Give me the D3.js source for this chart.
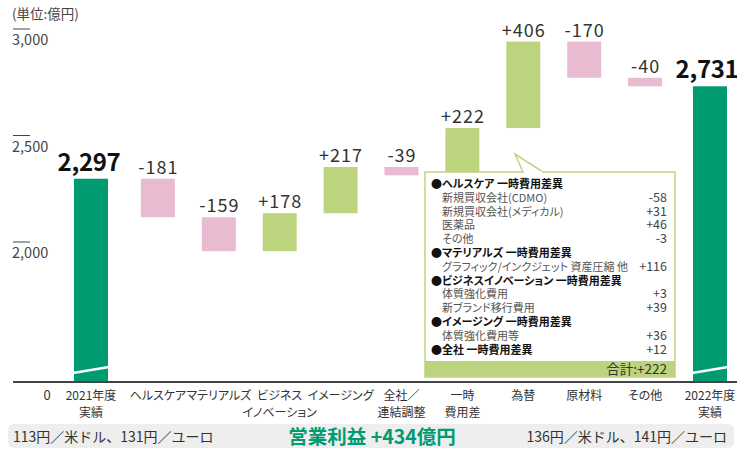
<!DOCTYPE html>
<html><head><meta charset="utf-8">
<script src="https://cdn.jsdelivr.net/npm/d3@7"></script>
<style>
html,body{margin:0;padding:0;background:#fff;}
svg{display:block;font-family:"Noto Sans CJK JP","Noto Sans",sans-serif;font-feature-settings:"palt" 1;}
.nopalt{font-feature-settings:normal;}
</style></head>
<body><svg id="c" width="737" height="449"></svg>
<script>
// ---- data ----
const categories = ["2021年度\n実績","ヘルスケア","マテリアルズ","ビジネス\nイノベーション","イメージング","全社／\n連結調整","一時\n費用差","為替","原材料","その他","2022年度\n実績"];
const startValue = 2297;
const endValue = 2731;
const deltas = [-181, -159, 178, 217, -39, 222, 406, -170, -40];
const yTicks = [2000, 2500, 3000];
const unitLabel = "(単位:億円)";
const noteLabels = ["●ヘルスケア 一時費用差異","新規買収会社(CDMO)","新規買収会社(メディカル)","医薬品","その他","●マテリアルズ 一時費用差異","グラフィック/インクジェット 資産圧縮 他","●ビジネスイノベーション 一時費用差異","体質強化費用","新ブランド移行費用","●イメージング 一時費用差異","体質強化費用等","●全社 一時費用差異"];
const noteValues = ["","-58","+31","+46","-3","","+116","","+3","+39","","+36","+12"];
const noteHeader = [true,false,false,false,false,true,false,true,false,false,true,false,true];
const noteTotal = "合計:+222";
const footerLeft = "113円／米ドル、131円／ユーロ";
const footerCenter = "営業利益 +434億円";
const footerRight = "136円／米ドル、141円／ユーロ";

// ---- layout ----
const W = 737, H = 449;
const baseY = 382;
const barW = 34;
const cGreen = "#009B70", cPos = "#BDD47E", cNeg = "#E8BBD0", cText = "#333";

const svg = d3.select("#c");
const y = d3.scaleLinear().domain([2000, 3000]).range([242, 29]);
const x = d3.scalePoint().domain(categories).range([97, 706]);
const xc = (c, i) => x(c) + (i === 0 ? -6 : i === categories.length - 1 ? 4 : 0);

// build waterfall rows
const rows = [];
rows.push({cat: categories[0], i: 0, type: "total", v0: null, v1: startValue, label: d3.format(",")(startValue)});
let run = startValue;
deltas.forEach((d, k) => {
  rows.push({cat: categories[k+1], i: k+1, type: d >= 0 ? "pos" : "neg", v0: run, v1: run + d,
             label: (d >= 0 ? "+" : "-") + Math.abs(d)});
  run += d;
});
rows.push({cat: categories[categories.length-1], i: categories.length-1, type: "total", v0: null, v1: endValue, label: d3.format(",")(endValue)});

// unit label
svg.append("text").attr("x", 12).attr("y", 19).attr("font-size", 13.5).attr("fill", "#444").text(unitLabel);

// y ticks (short line above label)
const tg = svg.append("g");
yTicks.forEach(t => {
  tg.append("line").attr("x1", 13).attr("x2", 30).attr("y1", y(t)).attr("y2", y(t))
    .attr("stroke", "#444").attr("stroke-width", 1);
  tg.append("text").attr("x", 12).attr("y", y(t) + 16).attr("font-size", 14.5).attr("fill", "#444")
    .text(d3.format(",")(t));
});

// bars
const bars = svg.append("g");
rows.forEach(r => {
  const cx = xc(r.cat, r.i);
  if (r.type === "total") {
    bars.append("rect").attr("x", cx - barW/2).attr("y", y(r.v1)).attr("width", barW)
      .attr("height", baseY - y(r.v1)).attr("fill", cGreen);
    // break mark
    bars.append("line").attr("x1", cx - barW/2 - 1).attr("y1", baseY - 9)
      .attr("x2", cx + barW/2 + 1).attr("y2", baseY - 15)
      .attr("stroke", "#fff").attr("stroke-width", 2.5);
    svg.append("text").attr("x", cx - (r.i === 0 ? 2 : 3)).attr("y", y(r.v1) - 8).attr("text-anchor", "middle")
      .attr("font-size", 24).attr("font-weight", 700).attr("letter-spacing", -0.3).attr("fill", "#111").text(r.label);
  } else {
    const top = Math.max(r.v0, r.v1), bot = Math.min(r.v0, r.v1);
    bars.append("rect").attr("x", cx - barW/2).attr("y", y(top)).attr("width", barW)
      .attr("height", y(bot) - y(top)).attr("fill", r.type === "pos" ? cPos : cNeg);
    svg.append("text").attr("x", cx + 0.5).attr("y", y(top) - 5).attr("text-anchor", "middle")
      .attr("font-size", 18).attr("letter-spacing", 1).attr("fill", cText).text(r.label);
  }
});

// baseline
svg.append("line").attr("x1", 13).attr("x2", W).attr("y1", baseY).attr("y2", baseY)
  .attr("stroke", "#444").attr("stroke-width", 2);
svg.append("text").attr("x", 47).attr("y", 400).attr("text-anchor", "middle")
  .attr("font-size", 13).attr("fill", cText).text("0");

// category labels
categories.forEach((c, i) => {
  const lines = c.split("\n");
  const t = svg.append("text").attr("text-anchor", "middle").attr("font-size", 12).attr("fill", cText);
  lines.forEach((ln, k) => {
    t.append("tspan").attr("x", xc(c, i)).attr("y", 400 + k * 17).text(ln);
  });
});

// callout box
const bx0 = 425, bx1 = 675, by0 = 172, by1 = 377;
const cg = svg.append("g");
cg.append("rect").attr("x", bx0).attr("y", by0).attr("width", bx1 - bx0).attr("height", by1 - by0)
  .attr("fill", "#fff").attr("stroke", cPos).attr("stroke-width", 1.5);
cg.append("rect").attr("x", bx0).attr("y", 361).attr("width", bx1 - bx0).attr("height", by1 - 361)
  .attr("fill", cPos);
// pointer
cg.append("path").attr("d", `M${523},${by0} L${515},${154} L${543},${by0}`)
  .attr("fill", "#fff").attr("stroke", cPos).attr("stroke-width", 1.5);
cg.append("line").attr("x1", 524).attr("x2", 542).attr("y1", by0).attr("y2", by0)
  .attr("stroke", "#fff").attr("stroke-width", 2);

noteLabels.forEach((lab, k) => {
  const yy = 188 + k * 13.8;
  cg.append("text").attr("x", noteHeader[k] ? 431 : 442).attr("y", yy)
    .attr("font-size", 11).attr("font-weight", noteHeader[k] ? 700 : 400)
    .attr("fill", noteHeader[k] ? "#111" : "#555").text(lab);
  if (noteValues[k]) {
    cg.append("text").attr("x", 667).attr("y", yy).attr("text-anchor", "end")
      .attr("font-size", 12.5).attr("fill", "#444").text(noteValues[k]);
  }
});
cg.append("text").attr("x", 667).attr("y", 374).attr("text-anchor", "end")
  .attr("font-size", 13.5).attr("fill", cText).text(noteTotal);

// footer band
svg.append("rect").attr("x", 8).attr("y", 424).attr("width", 726).attr("height", 24).attr("rx", 6)
  .attr("fill", "#EEEEEE");
svg.append("text").attr("class", "nopalt").attr("x", 13).attr("y", 442).attr("font-size", 14).attr("fill", cText).text(footerLeft);
svg.append("text").attr("x", 372).attr("y", 444).attr("text-anchor", "middle").attr("font-size", 19.5)
  .attr("font-weight", 700).attr("fill", cGreen).text(footerCenter);
svg.append("text").attr("class", "nopalt").attr("x", 727).attr("y", 442).attr("text-anchor", "end").attr("font-size", 14)
  .attr("fill", cText).text(footerRight);
</script></body></html>
